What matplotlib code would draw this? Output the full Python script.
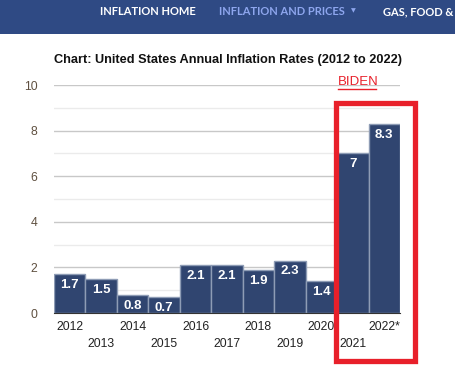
import matplotlib.pyplot as plt
from matplotlib.patches import Rectangle
from matplotlib.lines import Line2D
import numpy as np

# data
years = ['2012', '2013', '2014', '2015', '2016', '2017', '2018', '2019', '2020', '2021', '2022*']
rates = [1.7, 1.5, 0.8, 0.7, 2.1, 2.1, 1.9, 2.3, 1.4, 7, 8.3]
rate_labels = ['1.7', '1.5', '0.8', '0.7', '2.1', '2.1', '1.9', '2.3', '1.4', '7', '8.3']
nav_items = ['INFLATION HOME', 'INFLATION AND PRICES', 'GAS, FOOD & C']

W, H = 456, 380
fig = plt.figure(figsize=(W / 100, H / 100), dpi=100)
fig.patch.set_facecolor('white')

def fx(px):
    return px / W

def fy(py):
    return 1 - py / H

# header bar
fig.patches.append(Rectangle((0, fy(34)), 1, 34 / H, transform=fig.transFigure,
                             facecolor='#2f4a84', edgecolor='none', zorder=0))
fig.text(fx(100), fy(11.5), nav_items[0], color='white', fontsize=8.0,
         family='Lato', weight='bold', va='center')
fig.text(fx(219), fy(11.5), nav_items[1], color='#8ea6ee', fontsize=8.0,
         family='Lato', weight='bold', va='center')
fig.text(fx(353), fy(11), '\u25BC', color='#8ea6ee', fontsize=4.5,
         family='DejaVu Sans', va='center', ha='center')
fig.text(fx(383), fy(11.5), nav_items[2], color='white', fontsize=8.0,
         family='Lato', weight='bold', va='center')

# chart title
fig.text(fx(54), fy(60), 'Chart: United States Annual Inflation Rates (2012 to 2022)',
         fontsize=9.2, family='Liberation Sans', weight='bold', color='#111111', va='center')

# axes
ax = fig.add_axes([fx(54), fy(313), (400 - 54) / W, (313 - 85) / H])
x = np.arange(len(years))
bars = ax.bar(x, rates, width=1.0, color='#304570', edgecolor='#8e9cb5', linewidth=1, zorder=3)

for xi, v, lab in zip(x, rates, rate_labels):
    ax.annotate(lab, (xi, v), xytext=(0, -3.5), textcoords='offset points',
                ha='center', va='top', color='white', fontsize=9.5,
                family='Liberation Sans', weight='bold', zorder=4)

ax.set_xlim(-0.5, len(years) - 0.5)
ax.set_ylim(0, 10)
ax.set_yticks(np.arange(0, 11, 2))
ax.set_yticks(np.arange(1, 10, 2), minor=True)
ax.yaxis.grid(True, which='major', color='#c8c8c8', linewidth=1, zorder=0)
ax.yaxis.grid(True, which='minor', color='#ebebeb', linewidth=1, zorder=0)
ax.tick_params(axis='y', which='both', length=0, pad=12, labelsize=8.8,
               labelcolor='#5f5040')
for t in ax.get_yticklabels():
    t.set_family('Liberation Sans')

# staggered year labels: even years as major ticks, odd years as minor ticks
ax.set_xticks(x[::2])
ax.set_xticklabels(years[::2])
ax.set_xticks(x[1::2], minor=True)
ax.set_xticklabels(years[1::2], minor=True)
ax.tick_params(axis='x', which='major', length=0, pad=6, labelsize=8.8, labelcolor='#222222')
ax.tick_params(axis='x', which='minor', length=0, pad=18, labelsize=8.8, labelcolor='#222222')
for t in ax.get_xticklabels() + ax.get_xticklabels(minor=True):
    t.set_family('Liberation Sans')

for s in ['top', 'right', 'left']:
    ax.spines[s].set_visible(False)
ax.spines['bottom'].set_color('#333333')
ax.spines['bottom'].set_zorder(5)

# red highlight box and BIDEN label
fig.patches.append(Rectangle((fx(335.5), fy(360.5)), (414.5 - 335.5) / W, (360.5 - 102.5) / H,
                             transform=fig.transFigure, fill=False,
                             edgecolor='#e8202a', linewidth=3.8, zorder=10))
fig.text(fx(338), fy(82), 'BIDEN', color='#e8202a', fontsize=9.5,
         family='Liberation Sans', va='center', ha='left')
fig.lines.append(Line2D([fx(338), fx(376)], [fy(89), fy(89)], transform=fig.transFigure,
                        color='#e8202a', linewidth=1))

fig.savefig('out.png', dpi=100)
